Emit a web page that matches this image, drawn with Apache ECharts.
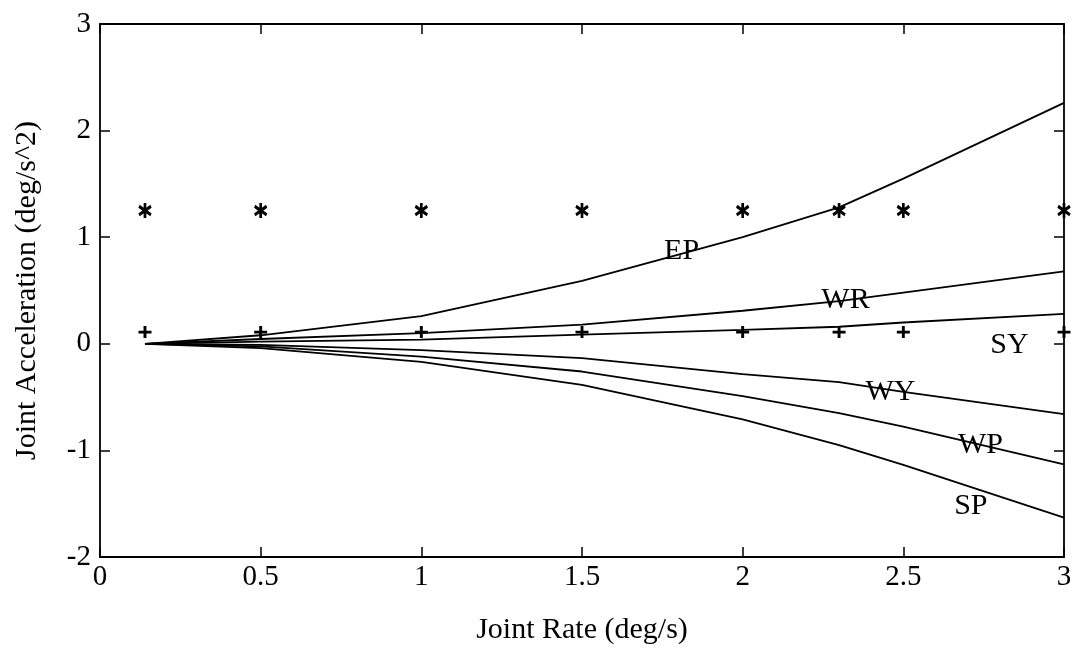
<!DOCTYPE html>
<html>
<head>
<meta charset="utf-8">
<script src="https://cdn.jsdelivr.net/npm/echarts@6/dist/echarts.min.js"></script>
<style>
  html, body { margin: 0; padding: 0; background: #fff; }
  #main { width: 1075px; height: 650px; }
</style>
</head>
<body>
<div id="main"></div>
<script>
  // joint rate samples (deg/s)
  var rates = [0.14, 0.5, 1, 1.5, 2, 2.3, 2.5, 3]
  // joint acceleration curves (deg/s^2)
  var EP = [0, 0.08, 0.26, 0.59, 1.0, 1.28, 1.55, 2.26]
  var WR = [0, 0.045, 0.10, 0.18, 0.31, 0.40, 0.48, 0.68]
  var SY = [0, 0.02, 0.04, 0.087, 0.13, 0.16, 0.20, 0.28]
  var WY = [0, -0.01, -0.06, -0.134, -0.285, -0.36, -0.45, -0.66]
  var WP = [0, -0.025, -0.12, -0.26, -0.49, -0.65, -0.776, -1.13]
  var SP = [0, -0.04, -0.17, -0.385, -0.71, -0.95, -1.135, -1.63]
  // limit markers
  var starLevel = 1.25
  var plusLevel = 0.11
  // curve labels
  var labelNames = ['EP', 'WR', 'SY', 'WY', 'WP', 'SP']
  var labelX = [1.81, 2.32, 2.83, 2.46, 2.74, 2.71]
  var labelY = [0.87, 0.41, -0.01, -0.45, -0.95, -1.52]

  var serifFont = '"Liberation Serif", "DejaVu Serif", serif'

  function pairs(xs, ys) {
    var out = []
    for (var i = 0; i < xs.length; i++) {
      out.push([xs[i], ys[i]])
    }
    return out
  }
  function level(xs, v) {
    var out = []
    for (var i = 0; i < xs.length; i++) {
      out.push([xs[i], v])
    }
    return out
  }

  var curves = {EP: EP, WR: WR, SY: SY, WY: WY, WP: WP, SP: SP}
  var series = []
  for (var name in curves) {
    series.push({
      name: name,
      type: 'line',
      data: pairs(rates, curves[name]),
      symbol: 'none',
      clip: false,
      lineStyle: {color: '#000', width: 1.8},
      z: 2
    })
  }
  series.push({
    name: 'star',
    type: 'scatter',
    data: level(rates, starLevel),
    symbol: 'path://M0,-7L0,7M-6,-4L6,4M-6,4L6,-4',
    symbolSize: [12, 15],
    clip: false,
    itemStyle: {color: 'none', borderColor: '#000', borderWidth: 3, opacity: 1},
    z: 3
  })
  series.push({
    name: 'plus',
    type: 'scatter',
    data: level(rates, plusLevel),
    symbol: 'path://M0,-6L0,6M-7,0L7,0',
    symbolSize: [13, 12],
    clip: false,
    itemStyle: {color: 'none', borderColor: '#000', borderWidth: 2.8, opacity: 1},
    z: 3
  })
  var labelData = []
  for (var k = 0; k < labelNames.length; k++) {
    labelData.push({name: labelNames[k], value: [labelX[k], labelY[k]]})
  }
  series.push({
    name: 'labels',
    type: 'scatter',
    data: labelData,
    symbolSize: 1,
    itemStyle: {color: 'rgba(0,0,0,0)', opacity: 1},
    label: {
      show: true,
      position: 'inside',
      formatter: '{b}',
      color: '#000',
      fontFamily: serifFont,
      fontSize: 30
    },
    z: 4
  })

  var tickStyle = {show: true, inside: true, length: 10, lineStyle: {color: '#000', width: 1.5}}
  var lineStyle = {show: true, onZero: false, lineStyle: {color: '#000', width: 1.8}}

  var chart = echarts.init(document.getElementById('main'))
  chart.setOption({
    backgroundColor: '#fff',
    animation: false,
    grid: {left: 100, right: 11, top: 24, bottom: 93},
    xAxis: [
      {
        type: 'value',
        min: 0, max: 3, interval: 0.5,
        name: 'Joint Rate (deg/s)',
        nameLocation: 'middle',
        nameGap: 58,
        nameTextStyle: {color: '#000', fontFamily: serifFont, fontSize: 30},
        axisLine: lineStyle,
        axisTick: tickStyle,
        axisLabel: {color: '#000', fontFamily: serifFont, fontSize: 29, margin: 6},
        splitLine: {show: false}
      },
      {
        type: 'value', position: 'top',
        min: 0, max: 3, interval: 0.5,
        axisLine: lineStyle,
        axisTick: tickStyle,
        axisLabel: {show: false},
        splitLine: {show: false}
      }
    ],
    yAxis: [
      {
        type: 'value',
        min: -2, max: 3, interval: 1,
        name: 'Joint Acceleration (deg/s^2)',
        nameLocation: 'middle',
        nameGap: 58,
        nameTextStyle: {color: '#000', fontFamily: serifFont, fontSize: 30},
        axisLine: lineStyle,
        axisTick: tickStyle,
        axisLabel: {color: '#000', fontFamily: serifFont, fontSize: 29, margin: 9},
        splitLine: {show: false}
      },
      {
        type: 'value', position: 'right',
        min: -2, max: 3, interval: 1,
        axisLine: lineStyle,
        axisTick: tickStyle,
        axisLabel: {show: false},
        splitLine: {show: false}
      }
    ],
    series: series
  })
</script>
</body>
</html>
